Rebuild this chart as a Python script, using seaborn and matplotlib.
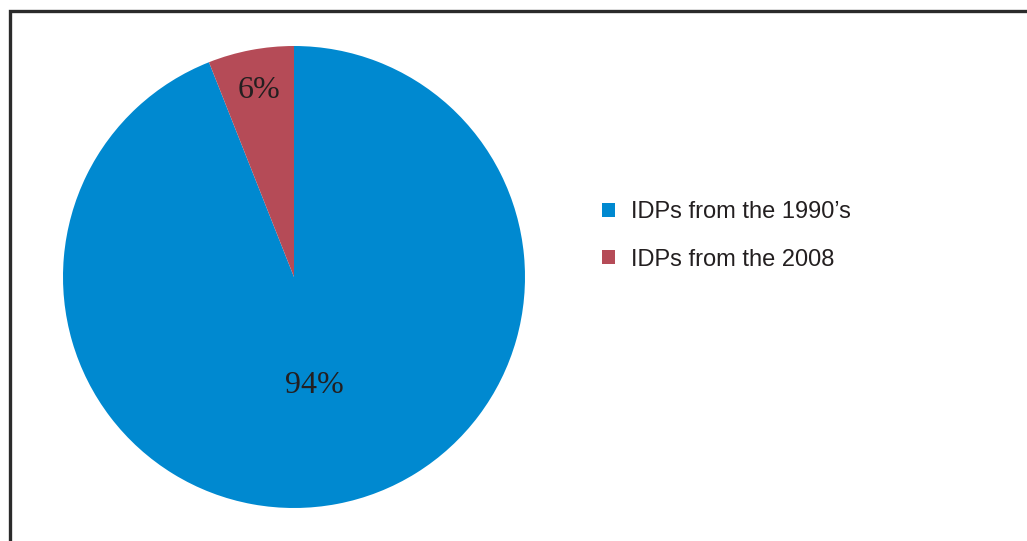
import numpy as np
import matplotlib
matplotlib.use("Agg")
import matplotlib.pyplot as plt
from matplotlib.patches import Rectangle, Patch
import seaborn as sns

# Share of internally displaced persons by displacement period
categories = ["IDPs from the 1990\u2019s", "IDPs from the 2008"]
shares = [94, 6]
colors = ["#0089D0", "#B54B57"]

sns.set_theme(style="white")
plt.rcParams["font.family"] = ["Liberation Sans", "DejaVu Sans"]

W, H = 1027, 541
fig = plt.figure(figsize=(W / 100, H / 100), dpi=100)
fig.patch.set_facecolor("white")

# Outer frame (runs off the right and bottom edges)
fig.add_artist(Rectangle((9.5 / W, -0.05), 1.1, (H - 11.0) / H + 0.05,
                         transform=fig.transFigure, fill=False,
                         edgecolor="#2b2b2b", linewidth=2.4))

# Pie axes: center (294, 277), radius 231 px
cx, cy, r = 294, 277, 231
ax = fig.add_axes([(cx - r) / W, (H - cy - r) / H, 2 * r / W, 2 * r / H])
wedges, _ = ax.pie(shares, colors=colors, startangle=90, counterclock=False,
                   radius=1.0, wedgeprops=dict(linewidth=0))
ax.set_xlim(-1, 1)
ax.set_ylim(-1, 1)
ax.set_aspect("equal")
ax.axis("off")

# Percentage labels placed along each wedge's bisector
label_dist = [0.48, 0.82]
for w, val, d in zip(wedges, shares, label_dist):
    mid = np.deg2rad((w.theta1 + w.theta2) / 2)
    ax.text(d * np.cos(mid), d * np.sin(mid), f"{val}%",
            ha="center", va="center", fontsize=23,
            family=["Liberation Serif", "DejaVu Serif"], color="#231f20")

handles = [Patch(facecolor=c, edgecolor="none") for c in colors]
fig.legend(handles, categories, loc="upper left",
           bbox_to_anchor=(581 / W, 1 - 180 / H), frameon=False,
           fontsize=17, handlelength=0.55, handleheight=0.55,
           handletextpad=0.68, labelspacing=1.07, labelcolor="#231f20")

fig.savefig("out.png", dpi=100, facecolor="white")
